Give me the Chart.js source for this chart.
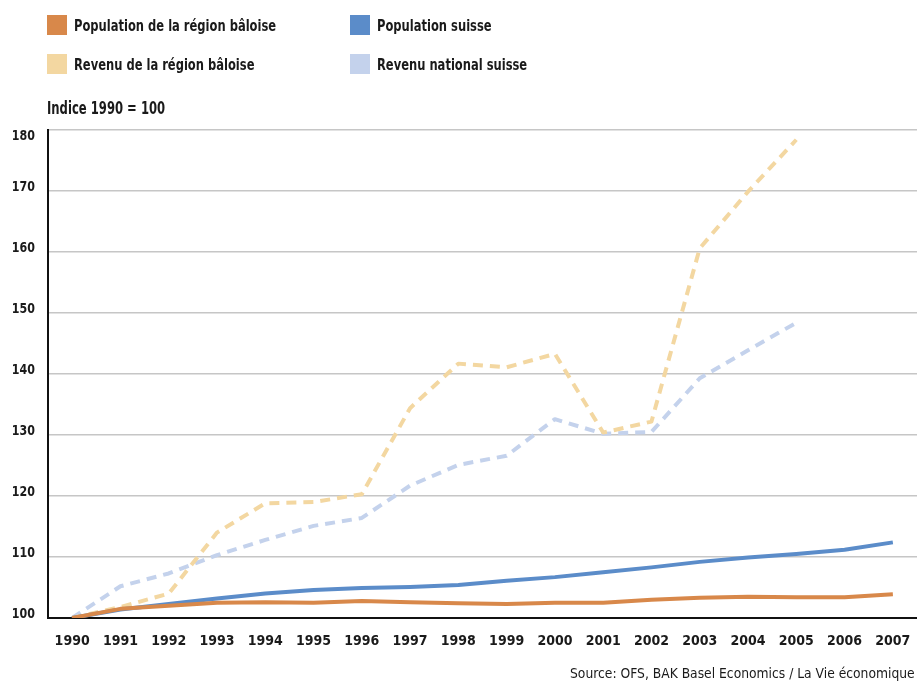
<!DOCTYPE html>
<html>
<head>
<meta charset="utf-8">
<script src="https://cdn.jsdelivr.net/npm/chart.js@4/dist/chart.umd.min.js"></script>
<style>
  html, body { margin: 0; padding: 0; background: #fff; }
  body { width: 917px; height: 681px; position: relative; overflow: hidden;
         font-family: 'DejaVu Sans Condensed', 'Liberation Sans', sans-serif; color: #1a1a1a; }
  #c { position: absolute; left: 0; top: 0; }
  .sw { position: absolute; width: 20px; height: 20px; }
  .lt { position: absolute; font-weight: bold; font-size: 16px; line-height: 20px; white-space: nowrap;
        transform: scaleX(0.80); transform-origin: 0 50%; }
  #ytitle { position: absolute; left: 47px; top: 98px; font-weight: bold; font-size: 17px; line-height: 20px;
            white-space: nowrap; transform: scaleX(0.76); transform-origin: 0 50%; }
  #src { position: absolute; right: 2px; top: 664px; font-size: 14px; line-height: 18px; white-space: nowrap;
         transform: scaleX(0.98); transform-origin: 100% 50%; }
</style>
</head>
<body>
<canvas id="c" width="917" height="681"></canvas>
<div id="legend"></div>
<div id="ytitle">Indice 1990 = 100</div>
<div id="src">Source: OFS, BAK Basel Economics / La Vie économique</div>
<script>
const years = ['1990','1991','1992','1993','1994','1995','1996','1997','1998','1999','2000','2001','2002','2003','2004','2005','2006','2007'];
const seriesNames = ['Population de la région bâloise', 'Population suisse', 'Revenu de la région bâloise', 'Revenu national suisse'];
const popBale   = [100, 101.5, 102.0, 102.5, 102.6, 102.5, 102.8, 102.6, 102.4, 102.3, 102.5, 102.5, 103.0, 103.3, 103.5, 103.4, 103.4, 103.9];
const popSuisse = [100, 101.4, 102.3, 103.2, 104.0, 104.6, 104.9, 105.1, 105.4, 106.1, 106.7, 107.5, 108.3, 109.2, 109.9, 110.5, 111.2, 112.4];
const revBale   = [100, 101.8, 104.0, 114.0, 118.8, 119.0, 120.3, 134.4, 141.7, 141.1, 143.3, 130.4, 132.2, 160.6, 169.9, 178.4, null, null];
const revSuisse = [100, 105.2, 107.3, 110.3, 112.8, 115.1, 116.4, 121.7, 125.1, 126.6, 132.6, 130.2, 130.5, 139.3, 143.9, 148.4, null, null];
const yTicks = [100, 110, 120, 130, 140, 150, 160, 170, 180];

const colors = ['#D8884A', '#5B8CC9', '#F3D7A1', '#C4D2EC'];
const FONT = "'DejaVu Sans Condensed', 'Liberation Sans', sans-serif";

// HTML legend in two columns
const legendPos = [[47, 15], [350, 15], [47, 54], [350, 54]];
const lg = document.getElementById('legend');
seriesNames.forEach((n, i) => {
  const s = document.createElement('div');
  s.className = 'sw';
  s.style.left = legendPos[i][0] + 'px';
  s.style.top = legendPos[i][1] + 'px';
  s.style.background = colors[i];
  lg.appendChild(s);
  const t = document.createElement('div');
  t.className = 'lt';
  t.style.left = (legendPos[i][0] + 27) + 'px';
  t.style.top = (legendPos[i][1] + 1) + 'px';
  t.textContent = n;
  lg.appendChild(t);
});

const ds = (label, data, color, dashed) => ({
  label, data,
  borderColor: color, backgroundColor: color,
  borderWidth: 4, pointRadius: 0, tension: 0,
  borderDash: dashed ? [10, 7] : [],
  borderJoinStyle: 'round',
  spanGaps: false, fill: false
});

// y tick labels drawn slightly above their gridlines (top one below), as in the reference
const yLabelPlugin = {
  id: 'yLabels',
  afterDraw(chart) {
    const y = chart.scales.y;
    const ctx = chart.ctx;
    ctx.save();
    ctx.font = "bold 14px " + FONT;
    ctx.fillStyle = '#1a1a1a';
    ctx.textAlign = 'right';
    ctx.textBaseline = 'middle';
    yTicks.forEach(v => {
      const py = y.getPixelForValue(v);
      const off = (v === y.max) ? 6 : -4;
      ctx.save();
      ctx.translate(y.right - 13, py + off);
      ctx.scale(0.88, 1);
      ctx.fillText(String(v), 0, 0);
      ctx.restore();
    });
    ctx.restore();
  }
};

new Chart(document.getElementById('c'), {
  type: 'line',
  data: {
    labels: years,
    datasets: [
      ds(seriesNames[0], popBale, colors[0], false),
      ds(seriesNames[1], popSuisse, colors[1], false),
      ds(seriesNames[2], revBale, colors[2], true),
      ds(seriesNames[3], revSuisse, colors[3], true)
    ]
  },
  plugins: [yLabelPlugin],
  options: {
    responsive: false,
    devicePixelRatio: 1,
    animation: false,
    layout: { padding: { top: 130, left: 0, right: 0, bottom: 0 } },
    plugins: { legend: { display: false }, tooltip: { enabled: false } },
    scales: {
      x: {
        type: 'category',
        offset: true,
        grid: { display: false, drawTicks: false },
        border: { display: true, color: '#111', width: 2 },
        ticks: { color: '#1a1a1a', padding: 0, maxRotation: 0, autoSkip: false,
                 font: { family: FONT, size: 14, weight: 'bold', lineHeight: '47px' } },
        afterFit: s => { s.height = 63; }
      },
      y: {
        min: 100, max: 180,
        afterBuildTicks: s => { s.ticks = yTicks.map(v => ({ value: v })); },
        grid: { color: '#c6c6c6', lineWidth: 1.5, drawTicks: false },
        border: { display: true, color: '#111', width: 2 },
        ticks: { display: false },
        afterFit: s => { s.width = 48; }
      }
    }
  }
});
</script>
</body>
</html>
